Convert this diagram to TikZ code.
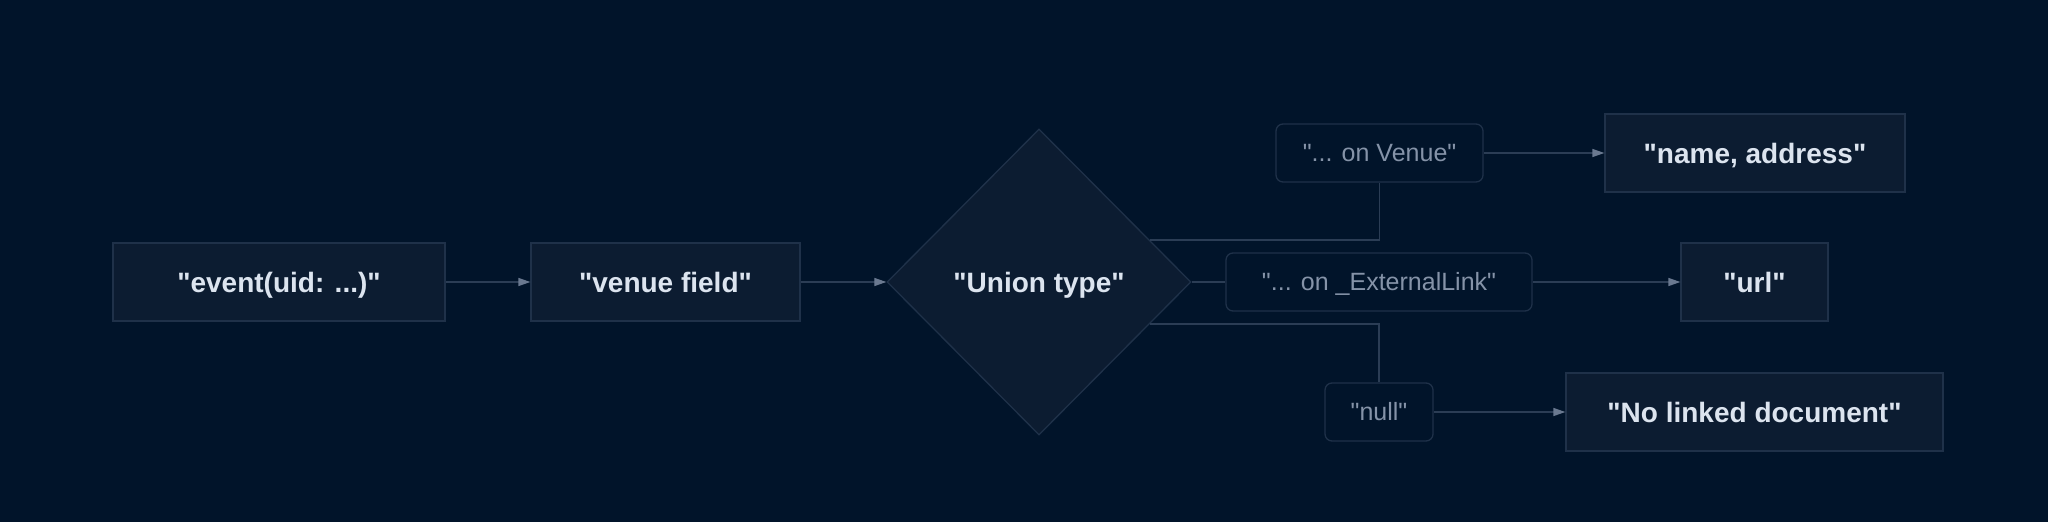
\documentclass[tikz,border=0pt]{standalone}
\usepackage{fontspec}
\setmainfont{Liberation Sans}
\usetikzlibrary{shapes.geometric,arrows.meta}
\newcommand{\qd}{\textquotedbl}
\definecolor{bg}{HTML}{01142A}
\definecolor{boxfill}{HTML}{0C1C31}
\definecolor{boxline}{HTML}{1F3149}
\definecolor{linec}{HTML}{2B3D55}
\definecolor{tipc}{HTML}{6A7990}
\definecolor{maintext}{HTML}{DCE4EF}
\definecolor{subtext}{HTML}{8593A8}
\tikzset{
  mainfont/.style={font=\fontsize{28}{32}\selectfont\bfseries, text=maintext, text height=20pt, text depth=0pt},
  mainbox/.style={draw=boxline, fill=boxfill, line width=1.3pt, minimum height=78pt, inner sep=0pt, mainfont},
  subbox/.style={draw=boxline, fill=bg, line width=1.3pt, rounded corners=7pt, minimum height=58pt, inner sep=0pt,
    font=\fontsize{25}{29}\selectfont, text=subtext, text height=17.9pt, text depth=0pt},
  conn/.style={draw=linec, line width=1.3pt},
  arr/.style={conn, -{Triangle[length=12pt,width=8pt,color=tipc]}},
}
\begin{document}
\begin{tikzpicture}[x=1pt,y=-1pt]
\fill[bg] (0,0) rectangle (2048,522);
\useasboundingbox (0,0) rectangle (2048,522);
\node[mainbox, minimum width=332pt] (event) at (279,282) {\qd event(uid: ...)\qd};
\node[mainbox, minimum width=269pt] (venue) at (665.5,282) {\qd venue field\qd};
\node[diamond, draw=boxline, fill=boxfill, line width=1.3pt, minimum width=304pt, minimum height=306pt, inner sep=0pt, aspect=1] (union) at (1039,282) {};
\node[mainfont, inner sep=0pt] (unionlbl) at (1039,282) {\qd Union type\qd};
\node[subbox, minimum width=207pt] (onvenue) at (1379.5,153) {\qd... on Venue\qd};
\node[subbox, minimum width=306pt] (onext) at (1379,282) {\qd... on \_ExternalLink\qd};
\node[subbox, minimum width=108pt] (null) at (1379,412) {\qd null\qd};
\node[mainbox, minimum width=300pt] (name) at (1755,153) {\qd name, address\qd};
\node[mainbox, minimum width=147pt] (url) at (1754.5,282) {\qd url\qd};
\node[mainbox, minimum width=377pt] (nolink) at (1754.5,412) {\qd No linked document\qd};
\coordinate (ua) at (1149.5,240);
\coordinate (ub) at (1149.5,324);
\draw[arr] (event) -- (venue);
\draw[arr] (venue) -- (union);
\draw[conn] (ua) -| (onvenue.south);
\draw[conn] (union.east) -- (onext.west);
\draw[conn] (ub) -| (null.north);
\draw[arr] (onvenue) -- (name);
\draw[arr] (onext) -- (url);
\draw[arr] (null) -- (nolink);
\end{tikzpicture}
\end{document}
